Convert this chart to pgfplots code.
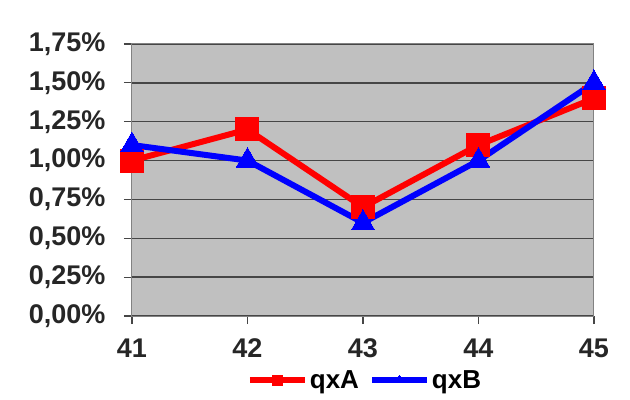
\documentclass[border=0pt]{standalone}
\usepackage{pgfplots}
\pgfplotsset{compat=1.18}
\usepackage{fontspec}
\setmainfont{Liberation Sans}
\definecolor{plotbg}{RGB}{192,192,192}
\definecolor{gridc}{RGB}{70,70,70}
\definecolor{frame}{RGB}{130,130,130}
\definecolor{qxa}{RGB}{255,0,0}
\definecolor{qxb}{RGB}{0,0,255}
\begin{document}
\begin{tikzpicture}
\path[use as bounding box] (-132bp,-84bp) rectangle (498bp,316bp);
\begin{axis}[
  scale only axis,
  width=462bp, height=272bp,
  at={(0,0)}, anchor=south west,
  xmin=41, xmax=45, ymin=0, ymax=1.75,
  xtick={41,42,43,44,45},
  xticklabels={41,42,43,44,45},
  ytick={0,0.25,0.5,0.75,1,1.25,1.5,1.75},
  yticklabels={0{,}00\%,0{,}25\%,0{,}50\%,0{,}75\%,1{,}00\%,1{,}25\%,1{,}50\%,1{,}75\%},
  ymajorgrids,
  major grid style={gridc, line width=1.5bp},
  axis background/.style={fill=plotbg},
  axis line style={frame, line width=1bp},
  tick align=outside,
  major tick length=8bp,
  tick style={gridc, line width=1.2bp},
  xtick pos=bottom, ytick pos=left,
  ticklabel style={font=\fontsize{27bp}{30bp}\selectfont\bfseries, text=black!85},
  xticklabel style={yshift=-11bp},
  yticklabel style={xshift=-15bp},
  legend columns=2,
  legend style={at={(233bp,-64bp)}, anchor=center, draw=none, fill=none,
    font=\fontsize{26bp}{29bp}\selectfont\bfseries,
    /tikz/every even column/.append style={column sep=8bp}},
  legend image code/.code={
    \draw[#1, line width=5bp] (0bp,0bp) -- (55bp,0bp);
    \draw[#1, mark size=5bp, mark repeat=2, mark phase=2] plot coordinates {(0bp,0bp) (27.5bp,0bp) (55bp,0bp)};
  },
]
\addplot[qxa, line width=6bp, mark=square*, mark size=11.5bp, mark options={line width=0bp, fill=qxa}]
  coordinates {(41,1.00) (42,1.20) (43,0.70) (44,1.10) (45,1.40)};
\addlegendentry{qxA}
\addplot[qxb, line width=6bp, mark=triangle*, mark size=13bp, mark options={line width=0bp, fill=qxb}]
  coordinates {(41,1.10) (42,1.00) (43,0.60) (44,1.00) (45,1.50)};
\addlegendentry{qxB}
\end{axis}
\end{tikzpicture}
\end{document}
